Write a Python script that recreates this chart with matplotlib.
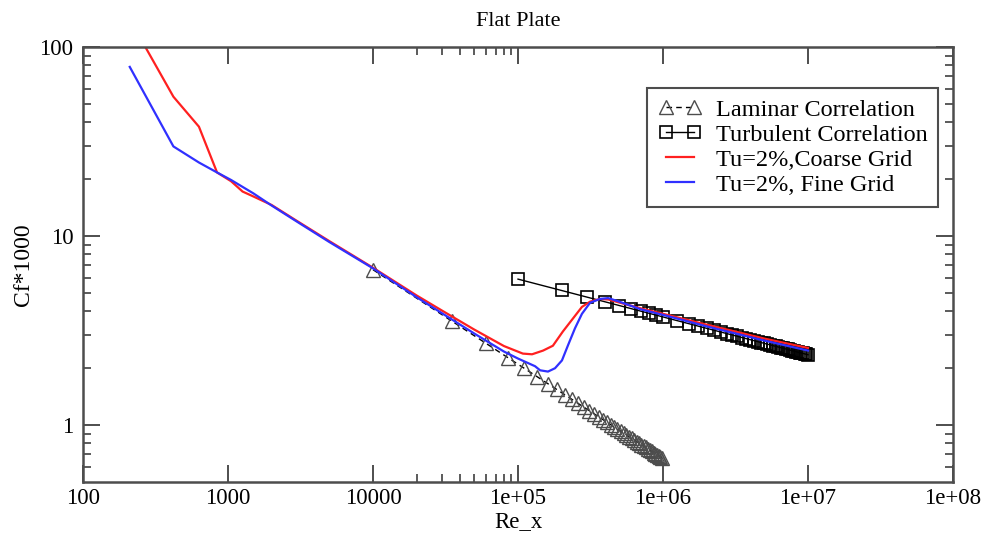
import matplotlib
matplotlib.use('Agg')
import matplotlib.pyplot as plt
from matplotlib.ticker import FixedLocator, NullFormatter

# laminar correlation points (Re_x, Cf*1000)
re_lam = [10000, 35000, 60000, 85000, 110000, 135000, 160000, 185000, 210000, 235000,
          260000, 285000, 310000, 335000, 360000, 385000, 410000, 435000, 460000, 485000,
          510000, 535000, 560000, 585000, 610000, 635000, 660000, 685000, 710000, 735000,
          760000, 785000, 810000, 835000, 860000, 885000, 910000, 935000, 960000, 985000]
cf_lam = [6.64, 3.549, 2.711, 2.277, 2.002, 1.807, 1.66, 1.544, 1.449, 1.370,
          1.302, 1.244, 1.193, 1.147, 1.107, 1.070, 1.037, 1.007, 0.979, 0.953,
          0.930, 0.908, 0.887, 0.868, 0.850, 0.833, 0.817, 0.802, 0.788, 0.775,
          0.762, 0.749, 0.738, 0.727, 0.716, 0.706, 0.696, 0.687, 0.678, 0.669]

# turbulent correlation points
re_turb = [1e5, 2e5, 3e5, 4e5, 5e5, 6e5, 7e5, 8e5, 9e5, 1e6,
           1.25e6, 1.5e6, 1.75e6, 2e6, 2.25e6, 2.5e6, 2.75e6, 3e6, 3.25e6, 3.5e6,
           3.75e6, 4e6, 4.25e6, 4.5e6, 4.75e6, 5e6, 5.25e6, 5.5e6, 5.75e6, 6e6,
           6.25e6, 6.5e6, 6.75e6, 7e6, 7.25e6, 7.5e6, 7.75e6, 8e6, 8.25e6, 8.5e6,
           8.75e6, 9e6, 9.25e6, 9.5e6, 9.75e6, 1e7]
cf_turb = [5.92, 5.154, 4.752, 4.487, 4.291, 4.137, 4.011, 3.906, 3.815, 3.735,
           3.572, 3.444, 3.339, 3.252, 3.176, 3.109, 3.051, 2.998, 2.951, 2.907,
           2.867, 2.831, 2.796, 2.765, 2.735, 2.707, 2.681, 2.656, 2.632, 2.610,
           2.589, 2.569, 2.549, 2.531, 2.513, 2.496, 2.480, 2.464, 2.449, 2.434,
           2.420, 2.407, 2.394, 2.381, 2.368, 2.357]

# Tu=2%, coarse grid
re_coarse = [210, 420, 630, 840, 1050, 1260, 1470, 2000, 3000, 5000, 10000, 20000, 30000,
             50000, 80000, 108000, 125000, 149000, 174000, 204000, 239000, 276000,
             314000, 368000, 420000, 500000, 700000, 1e6, 2e6, 5e6, 1e7]
cf_coarse = [140, 54.6, 37.9, 21.7, 19.5, 17.2, 16.3, 14.6, 12.0, 9.4, 6.8, 4.85, 4.03,
             3.2, 2.62, 2.39, 2.37, 2.48, 2.63, 3.13, 3.66, 4.22,
             4.5, 4.65, 4.62, 4.45, 4.15, 3.88, 3.4, 2.87, 2.56]

# Tu=2%, fine grid
re_fine = [210, 420, 630, 840, 1050, 1500, 2000, 3000, 5000, 10000, 20000, 30000, 50000,
           80000, 100000, 131000, 142000, 161000, 180000, 201000, 221000, 247000, 276000,
           314000, 368000, 418000, 500000, 700000, 1e6, 2e6, 5e6, 1e7]
cf_fine = [78.5, 29.8, 24.5, 21.7, 19.8, 16.8, 14.5, 11.9, 9.3, 6.75, 4.75, 3.9, 3.05,
           2.45, 2.25, 2.05, 1.95, 1.92, 2.0, 2.2, 2.64, 3.25, 3.88,
           4.44, 4.65, 4.7, 4.5, 4.1, 3.83, 3.33, 2.8, 2.48]

xticks = [1e2, 1e3, 1e4, 1e5, 1e6, 1e7, 1e8]
xticklabels = ['100', '1000', '10000', '1e+05', '1e+06', '1e+07', '1e+08']
yticks = [1, 10, 100]
yticklabels = ['1', '10', '100']

plt.rcParams['font.family'] = ['Liberation Serif', 'DejaVu Serif']

fig = plt.figure(figsize=(9.85, 5.38), dpi=100)
ax = fig.add_axes([0.0843, 0.104, 0.8832, 0.8086])

ax.plot(re_lam, cf_lam, color='black', linestyle='--', dashes=(4, 3), linewidth=1.0,
        marker='^', markersize=10, markerfacecolor='none', markeredgecolor='0.3',
        markeredgewidth=1.0, label='Laminar Correlation')
ax.plot(re_turb, cf_turb, color='black', linestyle='-', linewidth=1.0,
        marker='s', markersize=8, markerfacecolor='none', markeredgecolor='black',
        markeredgewidth=1.2, label='Turbulent Correlation')
ax.plot(re_coarse, cf_coarse, color='#ff2020', linewidth=1.6, label='Tu=2%,Coarse Grid')
ax.plot(re_fine, cf_fine, color='#3030ff', linewidth=1.6, label='Tu=2%, Fine Grid')

ax.set_xscale('log')
ax.set_yscale('log')
ax.set_xlim(100, 1e8)
ax.set_ylim(0.5, 100)

ax.set_xticks(xticks)
ax.set_xticklabels(xticklabels)
ax.set_yticks(yticks)
ax.set_yticklabels(yticklabels)
# minor x ticks only in one decade
ax.xaxis.set_minor_locator(FixedLocator([2e4, 3e4, 4e4, 5e4, 6e4, 7e4, 8e4, 9e4]))
ax.xaxis.set_minor_formatter(NullFormatter())
ax.yaxis.set_minor_locator(FixedLocator([0.6, 0.7, 0.8, 0.9] + [k for k in range(2, 10)] +
                                        [10 * k for k in range(2, 10)]))
ax.yaxis.set_minor_formatter(NullFormatter())

ax.tick_params(which='both', direction='in', top=True, right=True, color='0.25')
ax.tick_params(which='major', length=12, width=1.3, labelsize=16.5)
ax.tick_params(which='minor', length=6, width=1.2)
ax.tick_params(axis='x', pad=4)
ax.tick_params(axis='y', pad=7)

for s in ax.spines.values():
    s.set_linewidth(1.8)
    s.set_color('0.3')

ax.set_title('Flat Plate', fontsize=16, pad=15)
ax.set_xlabel('Re_x', fontsize=16.5, labelpad=2)
ax.set_ylabel('Cf*1000', fontsize=17, labelpad=4)

leg = ax.legend(loc='upper right', bbox_to_anchor=(0.983, 0.906), borderaxespad=0,
                fontsize=17.5, numpoints=2, handlelength=1.75, handletextpad=0.6,
                labelspacing=0.12, borderpad=0.45, fancybox=False, framealpha=1)
leg.get_frame().set_edgecolor('0.3')
leg.get_frame().set_linewidth(1.5)

fig.savefig('out.png', dpi=100)
